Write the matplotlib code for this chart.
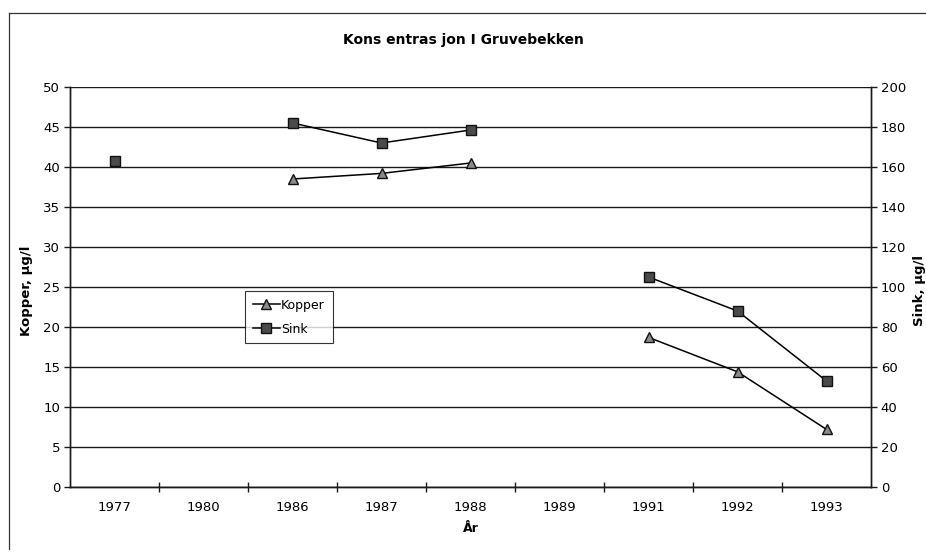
import numpy as np
import matplotlib.pyplot as plt
from matplotlib.lines import Line2D

# Data
years = ['1977', '1980', '1986', '1987', '1988', '1989', '1991', '1992', '1993']
kopper = [np.nan, np.nan, 38.5, 39.2, 40.5, np.nan, 18.7, 14.4, 7.2]       # µg/l, left axis
sink = [163, np.nan, 182, 172, 178.5, np.nan, 105, 88, 53]                  # µg/l, right axis

plt.rcParams['font.family'] = ['DejaVu Sans']

fig = plt.figure(figsize=(9.26, 5.52), dpi=100)
ax = fig.add_axes([70 / 926, 1 - 487 / 552, 801 / 926, 400 / 552])
ax2 = ax.twinx()

x = np.arange(len(years))
gc = '#1a1a1a'

# horizontal gridlines
ax.set_ylim(0, 50)
ax.set_yticks(np.arange(0, 51, 5))
ax.yaxis.grid(True, color=gc, lw=1.0)
ax.set_axisbelow(True)

ax.plot(x, kopper, color='black', lw=1.1, marker='^', ms=6.5,
        mfc='#8a8a8a', mec='#111', mew=1.0, zorder=3)
ax2.plot(x, sink, color='black', lw=1.1, marker='s', ms=6.5,
         mfc='#4a4a4a', mec='#111', mew=1.0, zorder=3)

ax2.set_ylim(0, 200)
ax2.set_yticks(np.arange(0, 201, 20))

ax.set_xlim(-0.5, len(years) - 0.5)
ax.set_xticks(x)
ax.set_xticklabels(years)
ax.set_xticks(np.arange(0.5, len(years) - 1, 1), minor=True)
ax.tick_params(axis='x', which='major', length=0, pad=10, labelsize=9.5)
ax.tick_params(axis='x', which='minor', length=7, direction='inout', color=gc, width=1)
ax.tick_params(axis='y', length=4, direction='out', color=gc, width=1, labelsize=9.5, pad=3)
ax2.tick_params(axis='y', length=4, direction='out', color=gc, width=1, labelsize=9.5, pad=3)

for a in (ax, ax2):
    a.spines['top'].set_visible(False)
    for s in ('left', 'right', 'bottom'):
        a.spines[s].set_color(gc)
        a.spines[s].set_linewidth(1.0)

ax.set_xlabel('År', fontsize=9, fontweight='bold', labelpad=6)
ax.set_ylabel('Kopper, µg/l', fontsize=9.5, fontweight='bold')
ax.yaxis.set_label_coords((33 - 70) / 801, 0.49)
ax2.set_ylabel('Sink, µg/l', fontsize=9.5, fontweight='bold', rotation=90)
ax2.yaxis.set_label_coords((913 - 70) / 801, 0.49)

fig.text(0.5, 1 - 40 / 552, 'Kons entras jon I Gruvebekken', ha='center', va='center',
         fontsize=10, fontweight='bold')

handles = [
    Line2D([], [], color='black', lw=1.1, marker='^', ms=6.5, mfc='#8a8a8a', mec='#111'),
    Line2D([], [], color='black', lw=1.1, marker='s', ms=6.5, mfc='#4a4a4a', mec='#111'),
]
leg = ax2.legend(handles, ['Kopper', 'Sink'], loc='upper left',
                 bbox_to_anchor=((245 - 70) / 801, (487 - 291) / 400),
                 fontsize=9, frameon=True, fancybox=False, handlelength=2.2,
                 handletextpad=0.1, borderpad=0.6, labelspacing=0.9, borderaxespad=0)
leg.get_frame().set_edgecolor('black')
leg.get_frame().set_linewidth(0.8)

# outer frame (top and left edges as in the scan)
fig.add_artist(Line2D([9 / 926, 1], [1 - 13 / 552, 1 - 13 / 552], color='#333', lw=0.9))
fig.add_artist(Line2D([9 / 926, 9 / 926], [1 - 13 / 552, 1 - 549 / 552], color='#333', lw=0.9))

fig.savefig('out.png', dpi=100)
